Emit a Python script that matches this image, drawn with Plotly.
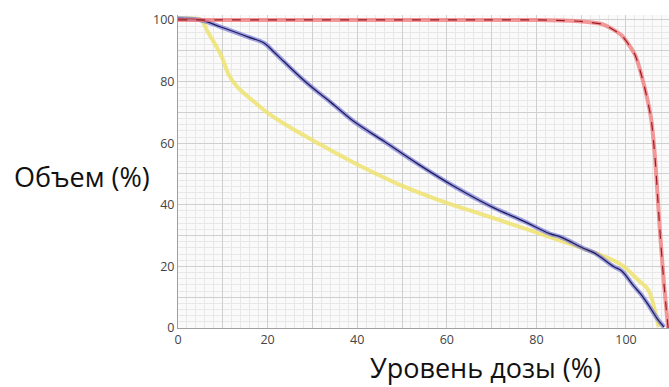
import plotly.graph_objects as go

# Dose level (%) vs Volume (%) — dose-volume histogram
red_dose = [0, 10, 20, 30, 40, 50, 60, 70, 80, 86, 90, 95, 99, 102, 104, 105.6, 106.5, 107.5, 108.5, 109.4]
red_vol = [100, 100, 100, 100, 100, 100, 100, 100, 100, 99.8, 99.5, 98.5, 95, 88.7, 79, 68, 55, 33, 14, 0]

blue_dose = [0, 5, 9.6, 15.6, 19.2, 21.4, 23.7, 28, 31.2, 34, 39.3, 46, 53.6, 61.6, 70.5, 77, 83, 85.5, 90.6, 92.9, 97.3, 99, 101.8, 103.3, 105, 107, 108.5]
blue_vol = [100.5, 100, 97.7, 94.5, 92.5, 89.6, 86.4, 80.5, 76.6, 73.4, 67, 60.6, 53.2, 46, 39, 34.8, 30.6, 29.5, 25.8, 24.4, 19.9, 18.6, 13.5, 11, 7.5, 3, 0.3]

yellow_dose = [0, 3, 5.1, 6.7, 9.6, 11.4, 13.4, 17, 20.8, 26.8, 32, 34, 41.5, 49, 58.7, 67.6, 78.8, 85, 90, 95, 99, 102.7, 105, 106.3, 107.3]
yellow_vol = [100.5, 100.5, 100, 96, 88.6, 82, 78, 73.4, 69, 63.6, 59.4, 57.8, 52, 46.8, 41.3, 37, 31.6, 28.5, 26, 23.3, 20.5, 15.6, 12.3, 6.5, 0.3]

x_ticks = [0, 20, 40, 60, 80, 100]
y_ticks = [0, 20, 40, 60, 80, 100]

x_title = "Уровень дозы (%)"
y_title = "Объем (%)"

fig = go.Figure()

# yellow band
fig.add_trace(go.Scatter(x=yellow_dose, y=yellow_vol, mode="lines",
                         line=dict(color="rgba(238,226,110,0.85)", width=4, shape="spline", smoothing=1.0),
                         hoverinfo="skip", showlegend=False))
# blue band + core
fig.add_trace(go.Scatter(x=blue_dose, y=blue_vol, mode="lines",
                         line=dict(color="rgba(120,120,215,0.7)", width=4.5, shape="spline", smoothing=1.0),
                         hoverinfo="skip", showlegend=False))
fig.add_trace(go.Scatter(x=blue_dose, y=blue_vol, mode="lines",
                         line=dict(color="#1e1e5c", width=1.3, shape="spline", smoothing=1.0),
                         hoverinfo="skip", showlegend=False))
# red band + core
fig.add_trace(go.Scatter(x=red_dose, y=red_vol, mode="lines",
                         line=dict(color="rgba(240,110,110,0.7)", width=4, shape="spline", smoothing=0.6),
                         hoverinfo="skip", showlegend=False))
fig.add_trace(go.Scatter(x=red_dose, y=red_vol, mode="lines",
                         line=dict(color="#9a1d2a", width=1.2, dash="dash", shape="spline", smoothing=0.6),
                         hoverinfo="skip", showlegend=False))

grid_vals = list(range(0, 110, 10))

axis_common = dict(
    showgrid=True, gridcolor="#cfcfcf", gridwidth=1,
    minor=dict(dtick=2, tick0=0, showgrid=True, gridcolor="#e8e8e8", gridwidth=1),
    zeroline=False, showline=True, linecolor="#a0a0a0", linewidth=1,
    ticks="", tickfont=dict(family="Open Sans", size=12.5, color="#444444"),
    tickmode="array", tickvals=grid_vals,
)

fig.update_xaxes(range=[0, 109.6],
                 ticktext=[str(v) if v in x_ticks else "" for v in grid_vals], **axis_common)
fig.update_yaxes(range=[0, 101.6],
                 ticktext=[str(v) if v in y_ticks else "" for v in grid_vals], **axis_common)

fig.add_annotation(text=y_title, xref="paper", yref="paper", x=-0.338, y=(328 - 176) / 313,
                   xanchor="left", yanchor="middle", showarrow=False,
                   font=dict(family="Open Sans", size=27, color="#111111"))
fig.add_annotation(text=x_title, xref="paper", yref="paper", x=(485 - 178) / 491, y=(328 - 368) / 313,
                   xanchor="center", yanchor="middle", showarrow=False,
                   font=dict(family="Open Sans", size=27, color="#111111"))

fig.update_layout(
    width=669, height=387,
    margin=dict(l=178, r=0, t=15, b=59),
    paper_bgcolor="white", plot_bgcolor="#fafafa",
    showlegend=False,
)

fig.write_html("out.html", config={"displayModeBar": False},
               post_script="document.body.style.margin='0';document.body.style.overflow='hidden';")
